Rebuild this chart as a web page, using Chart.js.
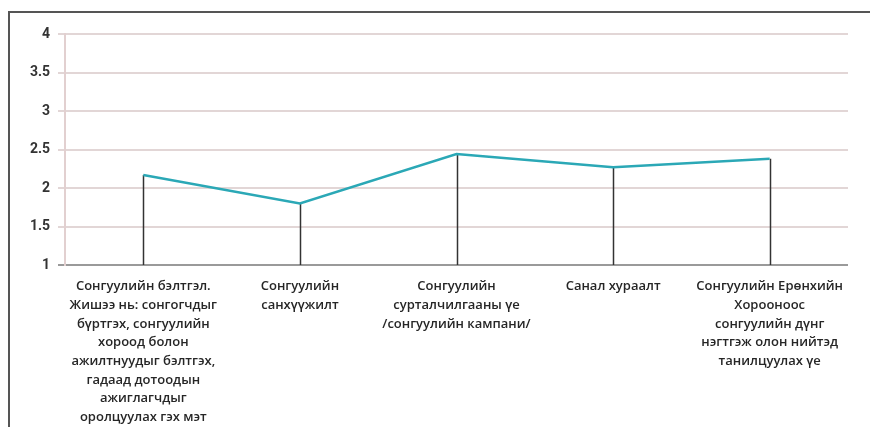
<!DOCTYPE html>
<html>
<head>
<meta charset="utf-8">
<script src="https://cdn.jsdelivr.net/npm/chart.js@4/dist/chart.umd.min.js"></script>
<style>
body { margin: 0; background: #fff; }
#frame { position: absolute; left: 8px; top: 11px; width: 900px; height: 500px; border-left: 2px solid #555; border-top: 2px solid #555; }
#wrap { position: absolute; left: 0; top: 0; width: 870px; height: 427px; }
</style>
</head>
<body>
<div id="frame"></div>
<div id="wrap"><canvas id="chart"></canvas></div>
<script>
const categories = [
    ['Сонгуулийн бэлтгэл.', 'Жишээ нь: сонгогчдыг', 'бүртгэх, сонгуулийн', 'хороод болон', 'ажилтнуудыг бэлтгэх,', 'гадаад дотоодын', 'ажиглагчдыг', 'оролцуулах гэх мэт'],
    ['Сонгуулийн', 'санхүүжилт'],
    ['Сонгуулийн', 'сурталчилгааны үе', '/сонгуулийн кампани/'],
    ['Санал хураалт'],
    ['Сонгуулийн Ерөнхийн', 'Хорооноос', 'сонгуулийн дүнг', 'нэгтгэж олон нийтэд', 'танилцуулах үе']
];
const scores = [2.17, 1.8, 2.44, 2.27, 2.38];
const yMin = 1, yMax = 4, yStep = 0.5;

// vertical lines from each point down to the bottom of the axis
const dropLines = {
    id: 'dropLines',
    beforeDatasetsDraw(chart) {
        const { ctx, scales: { x, y } } = chart;
        ctx.save();
        ctx.strokeStyle = '#333';
        ctx.lineWidth = 1.5;
        scores.forEach((v, i) => {
            const px = Math.round(x.getPixelForValue(i)) + 0.5;
            ctx.beginPath();
            ctx.moveTo(px, y.getPixelForValue(v));
            ctx.lineTo(px, y.getPixelForValue(yMin));
            ctx.stroke();
        });
        ctx.restore();
    }
};

const ctx = document.getElementById('chart').getContext('2d');
new Chart(ctx, {
    type: 'line',
    data: {
        labels: categories,
        datasets: [{
            data: scores,
            borderColor: '#2ba8b6',
            borderWidth: 2.5,
            pointRadius: 0,
            tension: 0,
            fill: false
        }]
    },
    options: {
        responsive: true,
        maintainAspectRatio: false,
        animation: false,
        layout: { padding: { top: 34, right: 22, left: 0, bottom: 0 } },
        plugins: { legend: { display: false }, tooltip: { enabled: false } },
        scales: {
            x: {
                offset: true,
                grid: { display: false, drawTicks: false },
                border: { display: false },
                ticks: {
                    autoSkip: false,
                    maxRotation: 0,
                    padding: 12,
                    color: '#262626',
                    font: { family: "'Open Sans', 'Noto Sans', sans-serif", size: 13, weight: 600, lineHeight: 1.44 }
                },
                afterFit(scale) { scale.height = 162; }
            },
            y: {
                min: yMin,
                max: yMax,
                ticks: {
                    stepSize: yStep,
                    padding: 8,
                    color: '#333',
                    font: { family: "Roboto, sans-serif", size: 14, weight: 'bold' },
                    callback: v => String(v)
                },
                grid: {
                    color: c => c.tick && c.tick.value === yMin ? '#9a9a9a' : '#e2d6d6',
                    lineWidth: 2,
                    tickLength: 7
                },
                border: { color: '#e2d0d0', width: 2 },
                afterFit(scale) { scale.width = 65; }
            }
        }
    },
    plugins: [dropLines]
});
</script>
</body>
</html>
